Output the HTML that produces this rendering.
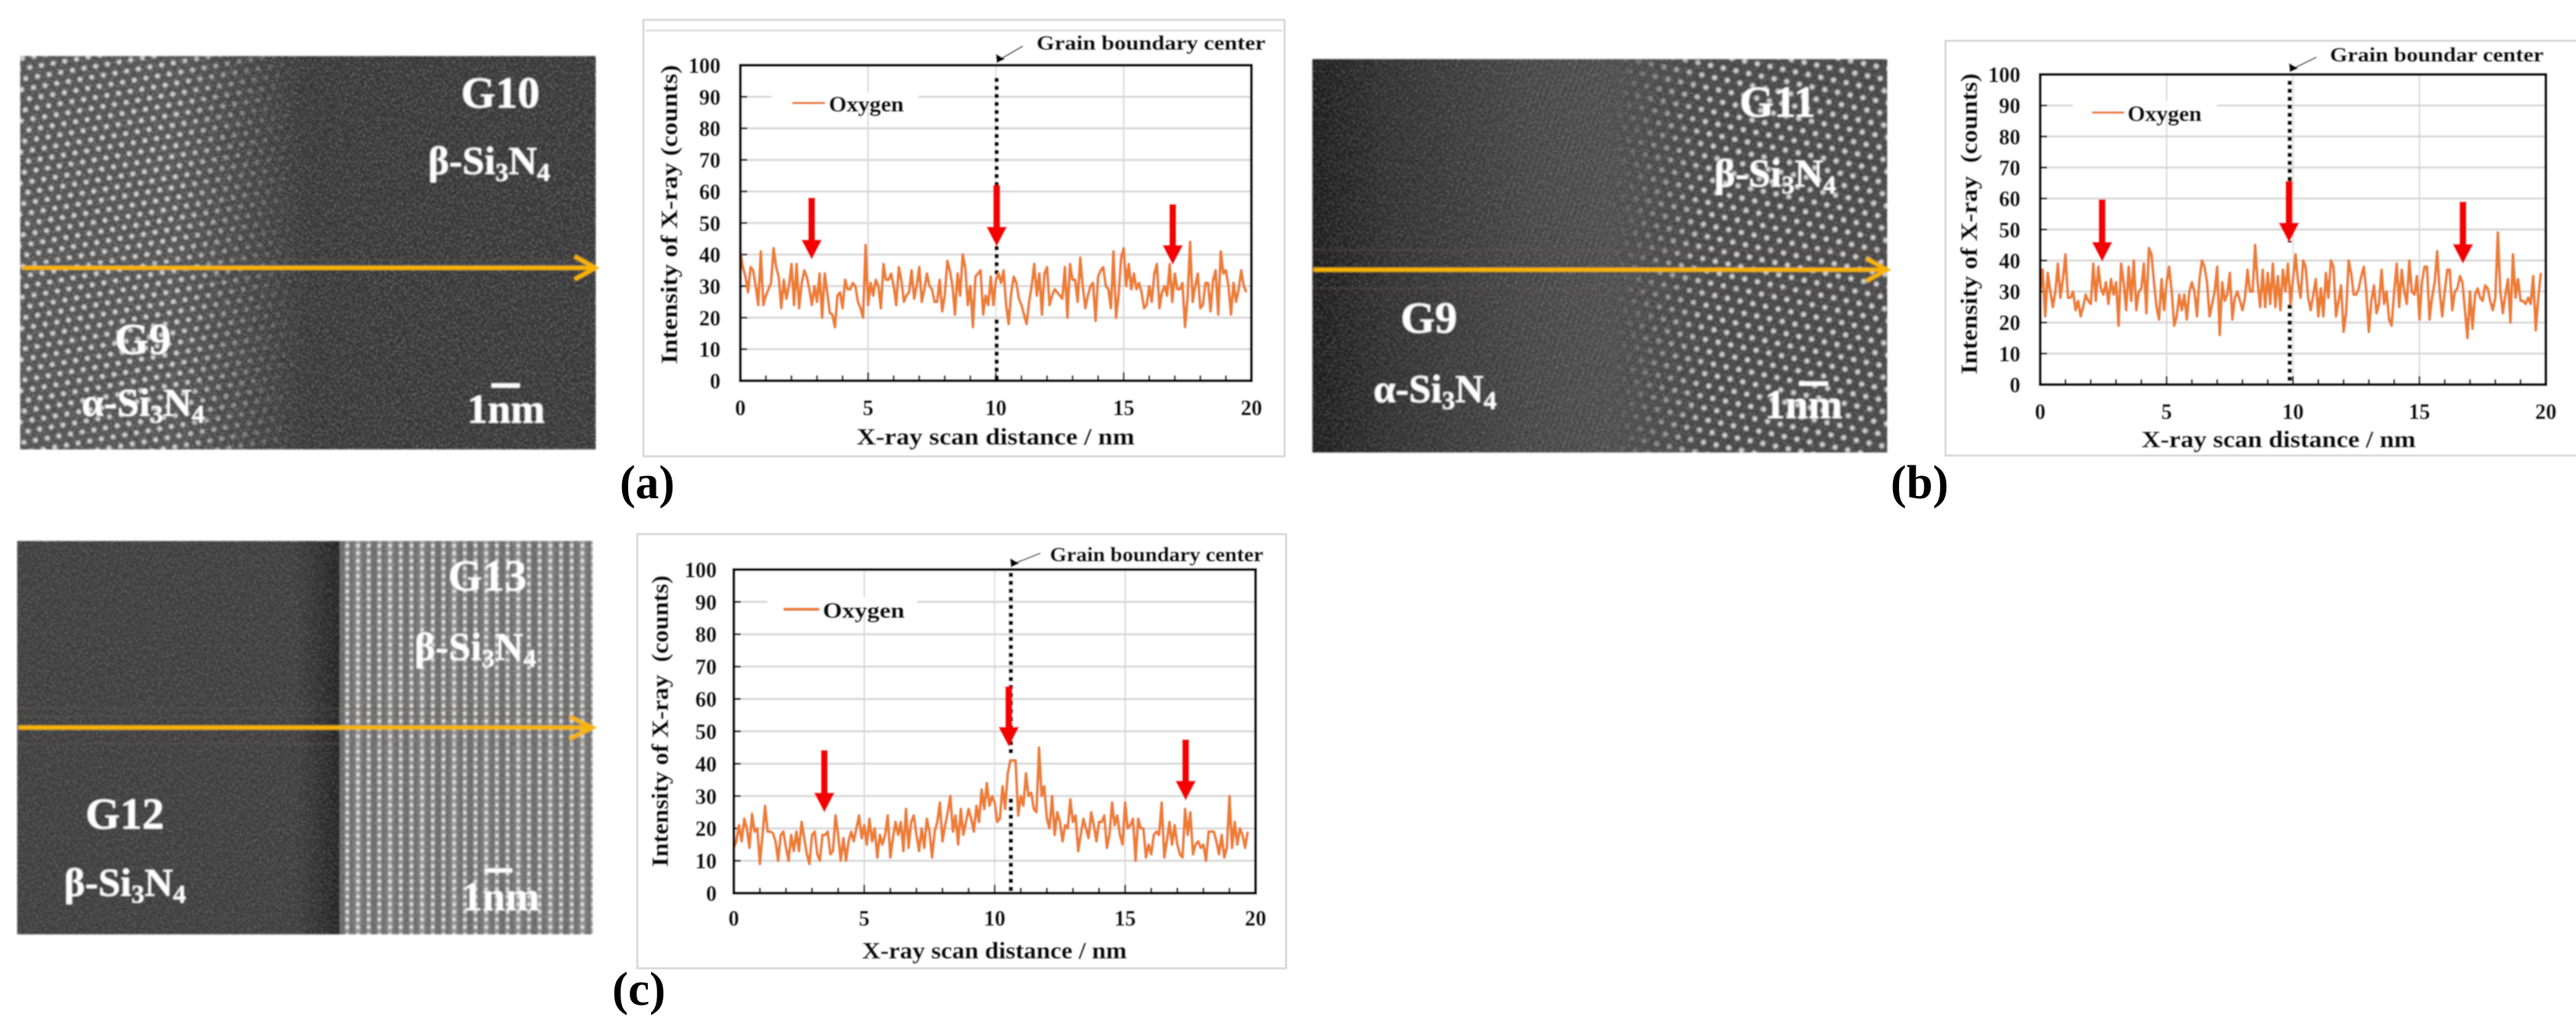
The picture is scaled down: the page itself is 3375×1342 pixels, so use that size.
<!DOCTYPE html>
<html lang="en">
<head>
<meta charset="utf-8">
<title>Oxygen line scans across Si3N4 grain boundaries</title>
<style>
html,body{margin:0;padding:0;background:#fff;}
#figure{display:block;position:absolute;left:0;top:0;}
text{font-family:"Liberation Serif",serif;font-weight:bold;}
.tem text{fill:#fff;}
#charts text{stroke:#111;stroke-width:.45px;}
</style>
</head>
<body>
<svg id="figure" xmlns="http://www.w3.org/2000/svg" width="3375" height="1342" viewBox="0 0 3375 1342">
<defs>
  <radialGradient id="dotA"><stop offset="0" stop-color="#e6e6e6"/><stop offset=".5" stop-color="#b8b8b8"/><stop offset="1" stop-color="#b8b8b8" stop-opacity="0"/></radialGradient>
  <radialGradient id="dotC"><stop offset="0" stop-color="#eeeeee"/><stop offset=".6" stop-color="#cfcfcf"/><stop offset="1" stop-color="#cfcfcf" stop-opacity="0"/></radialGradient>
  <pattern id="hexA" width="15.5" height="26.8" patternUnits="userSpaceOnUse" patternTransform="rotate(-10)">
    <rect width="15.5" height="26.8" fill="#4a4a4a"/>
    <circle cx="0" cy="0" r="4.6" fill="url(#dotA)"/><circle cx="15.5" cy="0" r="4.6" fill="url(#dotA)"/>
    <circle cx="0" cy="26.8" r="4.6" fill="url(#dotA)"/><circle cx="15.5" cy="26.8" r="4.6" fill="url(#dotA)"/>
    <circle cx="7.75" cy="13.4" r="4.6" fill="url(#dotA)"/>
  </pattern>
  <pattern id="hexB" width="17" height="29.4" patternUnits="userSpaceOnUse" patternTransform="rotate(12)">
    <rect width="17" height="29.4" fill="#404040"/>
    <circle cx="0" cy="0" r="4.8" fill="url(#dotA)"/><circle cx="17" cy="0" r="4.8" fill="url(#dotA)"/>
    <circle cx="0" cy="29.4" r="4.8" fill="url(#dotA)"/><circle cx="17" cy="29.4" r="4.8" fill="url(#dotA)"/>
    <circle cx="8.5" cy="14.7" r="4.8" fill="url(#dotA)"/>
  </pattern>
  <pattern id="rowsC" width="14" height="10" patternUnits="userSpaceOnUse">
    <rect width="14" height="10" fill="#666"/>
    <rect x="4" width="6" height="10" fill="#8c8c8c"/>
    <circle cx="7" cy="5" r="3.2" fill="url(#dotC)"/>
  </pattern>
  <pattern id="stripesC" width="42" height="10" patternUnits="userSpaceOnUse">
    <rect x="0" width="14" height="10" fill="#fff"/>
  </pattern>
  <pattern id="fringesB" width="7" height="7" patternUnits="userSpaceOnUse" patternTransform="rotate(18)">
    <rect width="2.6" height="7" fill="#8a8a8a"/>
  </pattern>
  <linearGradient id="fadeA" gradientUnits="userSpaceOnUse" x1="230" y1="0" x2="400" y2="0"><stop offset="0" stop-color="#2e2e2e" stop-opacity="0"/><stop offset="1" stop-color="#2e2e2e"/></linearGradient>
  <linearGradient id="baseB" gradientUnits="userSpaceOnUse" x1="1719" y1="0" x2="2200" y2="0"><stop offset="0" stop-color="#141414"/><stop offset=".2" stop-color="#282828"/><stop offset=".6" stop-color="#3c3c3c"/><stop offset="1" stop-color="#4a4a4a"/></linearGradient>
  <linearGradient id="fadeB" gradientUnits="userSpaceOnUse" x1="2110" y1="0" x2="2240" y2="0"><stop offset="0" stop-color="#464646"/><stop offset="1" stop-color="#464646" stop-opacity="0"/></linearGradient>
  <linearGradient id="fringeFade" gradientUnits="userSpaceOnUse" x1="1800" y1="0" x2="2050" y2="0"><stop offset="0" stop-color="#000"/><stop offset="1" stop-color="#fff"/></linearGradient>
  <mask id="fringeMask" maskUnits="userSpaceOnUse" x="1719" y="70" width="760" height="530"><rect x="1719" y="70" width="760" height="530" fill="url(#fringeFade)"/></mask>
  <linearGradient id="edgeC" gradientUnits="userSpaceOnUse" x1="385" y1="0" x2="440" y2="0"><stop offset="0" stop-color="#222" stop-opacity="0"/><stop offset="1" stop-color="#1e1e1e"/></linearGradient>
  <filter id="noise" x="0" y="0" width="100%" height="100%"><feTurbulence type="fractalNoise" baseFrequency="0.42" numOctaves="2" seed="7"/><feColorMatrix type="matrix" values="0 0 0 0 1 0 0 0 0 1 0 0 0 0 1 3.2 0 0 0 -1.4"/></filter>
  <filter id="soft" x="-2%" y="-2%" width="104%" height="104%"><feGaussianBlur stdDeviation="0.8"/></filter>
  <filter id="softer" x="-1%" y="-1%" width="102%" height="102%"><feGaussianBlur stdDeviation="1"/></filter>
</defs>

<g class="tem" filter="url(#softer)">
  <rect x="26.5" y="73.5" width="754" height="515.5" fill="url(#hexA)"/>
  <rect x="230" y="73.5" width="550.5" height="515.5" fill="url(#fadeA)"/>
  <rect x="26.5" y="73.5" width="754" height="515.5" fill="#fff" filter="url(#noise)" opacity=".32"/>
  <rect x="26.5" y="340" width="754" height="1.5" fill="#6a5a50" opacity=".5"/>
  <rect x="26.5" y="345" width="754" height="1.5" fill="#4a5a80" opacity=".5"/>
  <g fill="none" stroke="#f8b400" stroke-width="5.5"><path d="M29 351H779"/><path d="M753 336L780 351L753 366"/></g>
  <text x="604" y="141" font-size="58">G10</text>
  <text x="561" y="228" font-size="52">β-Si<tspan font-size="34" dy="9">3</tspan><tspan dy="-9">N</tspan><tspan font-size="34" dy="9">4</tspan></text>
  <text x="150" y="464" font-size="58">G9</text>
  <text x="107" y="545" font-size="52">α-Si<tspan font-size="34" dy="9">3</tspan><tspan dy="-9">N</tspan><tspan font-size="34" dy="9">4</tspan></text>
  <rect x="644" y="502.5" width="37" height="5.5" fill="#fff"/>
  <text x="612" y="554" font-size="54">1nm</text>
</g>

<g class="tem" filter="url(#softer)">
  <rect x="1719.5" y="77.5" width="753" height="515.5" fill="url(#baseB)"/>
  <rect x="1790" y="77.5" width="400" height="515.5" fill="url(#fringesB)" opacity=".16" mask="url(#fringeMask)"/>
  <rect x="2110" y="77.5" width="362.5" height="515.5" fill="url(#hexB)"/>
  <rect x="2110" y="77.5" width="130" height="515.5" fill="url(#fadeB)"/>
  <rect x="1719.5" y="77.5" width="753" height="515.5" fill="#fff" filter="url(#noise)" opacity=".26"/>
  <rect x="1719.5" y="327" width="753" height="1.5" fill="#6a5a50" opacity=".45"/>
  <rect x="1719.5" y="377" width="753" height="1.5" fill="#6a5a50" opacity=".45"/>
  <g fill="none" stroke="#f8b400" stroke-width="5.5"><path d="M1721 353.5H2471"/><path d="M2445 338.5L2472 353.5L2445 368.5"/></g>
  <text x="2279" y="153" font-size="58">G11</text>
  <text x="2246" y="244.5" font-size="52">β-Si<tspan font-size="34" dy="9">3</tspan><tspan dy="-9">N</tspan><tspan font-size="34" dy="9">4</tspan></text>
  <text x="1835" y="436" font-size="58">G9</text>
  <text x="1799.5" y="527" font-size="52">α-Si<tspan font-size="34" dy="9">3</tspan><tspan dy="-9">N</tspan><tspan font-size="34" dy="9">4</tspan></text>
  <rect x="2357" y="500" width="38" height="5.5" fill="#fff"/>
  <text x="2312" y="548" font-size="54">1nm</text>
</g>

<g class="tem" filter="url(#softer)">
  <rect x="22.5" y="709" width="754" height="515.5" fill="#393939"/>
  <rect x="385" y="709" width="60" height="515.5" fill="url(#edgeC)"/>
  <rect x="445" y="709" width="331.5" height="515.5" fill="url(#rowsC)"/>
  <rect x="445" y="709" width="331.5" height="515.5" fill="url(#stripesC)" opacity=".08"/>
  <rect x="22.5" y="709" width="754" height="515.5" fill="#fff" filter="url(#noise)" opacity=".24"/>
  <rect x="22.5" y="927.5" width="754" height="1.5" fill="#6a5a50" opacity=".45"/>
  <rect x="22.5" y="938" width="754" height="1.5" fill="#6a5a50" opacity=".45"/>
  <rect x="22.5" y="974" width="754" height="1.5" fill="#6a5a50" opacity=".45"/>
  <g fill="none" stroke="#f8b400" stroke-width="5.5"><path d="M24 953.5H775"/><path d="M746 939L776 953.5L746 968.5"/></g>
  <text x="587" y="774" font-size="58">G13</text>
  <text x="543" y="865" font-size="52">β-Si<tspan font-size="34" dy="9">3</tspan><tspan dy="-9">N</tspan><tspan font-size="34" dy="9">4</tspan></text>
  <text x="112" y="1086" font-size="58">G12</text>
  <text x="84" y="1174" font-size="52">β-Si<tspan font-size="34" dy="9">3</tspan><tspan dy="-9">N</tspan><tspan font-size="34" dy="9">4</tspan></text>
  <rect x="635" y="1138" width="36" height="5.5" fill="#fff"/>
  <text x="605" y="1193" font-size="54">1nm</text>
</g>

<text x="812" y="653" font-size="62" textLength="72" lengthAdjust="spacingAndGlyphs">(a)</text>
<text x="2477" y="653" font-size="62" textLength="76" lengthAdjust="spacingAndGlyphs">(b)</text>
<text x="802" y="1317" font-size="62" textLength="70" lengthAdjust="spacingAndGlyphs">(c)</text>

<g id="charts" filter="url(#soft)"></g>
</svg>

<script>
const xTickLabels = [0, 5, 10, 15, 20];
const yTickLabels = [0, 10, 20, 30, 40, 50, 60, 70, 80, 90, 100];
const scanStepNm = 0.1;

const oxygenA = [41,36,33,28,36,35,30,24,41,24,27,29,31,42,36,33,23,32,26,30,37,24,37,23,31,35,33,29,24,30,25,34,20,34,28,21.5,21,17,27,28,23,32,29,29,31,30,25,23,20,43,24,31,27,32,30,23,37,32,32,34,30,24,36,32,25,27,28,35,26,30,36,25,29,34,30,29,25,25,32,22,27,38,35,30,21,34,27,40,36,24,30,17,33,34,35,21,27,24,33,24,32,34,31,35,24,18,28,33,31,26,24,21,18,25,30,37,27,34,21,34,36,24,27,29,28,27,26,36,20,37,32,32,25,39,30,23,27,30,31,19,33,35,36,30,29,23,41,20,27,39,42,30,37,29,34,29,31,28,23,24,30,25,34,37,23,28,30,27,37,25,34,29,29,31,17,26,44,25,30,34,23,24,31,31,22,32,35,21,41,34,35,30,21,31,25,29,35,30,28];
const oxygenB = [30,37,22,36,30,25,30,39,28,34,42,28,28,30,24,27,22,25,29,27,26,39,27,38,31,29,33,26,34,29,33,19,39,33,24,38,27,40,24,30,31,39,23,44,42,33,25,21,34,24,33,38,30,19,22,29,24,29,21,30,33,30,22,34,40,38,33,22,26,30,38,16,33,27,29,36,21,28,30,27,24,28,37,30,30,45,33,25,37,25,36,26,39,25,35,24,37,30,39,26,34,42,33,28,40,38,28,24,29,34,22,31,22,36,28,40,38,22,27,32,17,23,40,36,29,29,31,35,38,30,17,27,32,23,26,37,26,30,21,19,30,39,25,37,30,26,40,30,29,35,21,33,38,38,21,28,33,43,30,22,30,37,37,24,30,31,35,33,24,15,30,18,29,31,28,27,32,31,27,24,28,49,30,23,29,34,20,42,28,34,27,27,26,28,26,35,17.5,28,36];
const oxygenC = [14,16,21,16,23,20,14,24.5,19,20,9,18,27,19,19,18.5,16,10,18,19,14,10,18,13,19,13,22,17,12,9,18,19,12,10,18,18,19,12,13,24,18,10,17,10,16,19,16,20,24,17,21,15,23,16,20,11,18,15,18,24,11,17,22,18,22,13,26,14,22,24,18,13,20,14,23,19,11,19,22,28,16,21,25,30,19,24,15,26,18,22,26,23,19,27,22,32,26,34,27,30,28,22,23,33,26,37,41,41,41,24,30,27,37,30,31,26,25,45,30,33,23,20,30,18,25,22,16,21,20,29,22,24,13,18,23,20,17,25,21,16,22,22,24,14,18,28,21,24,18,15,28,20,21,23,10,23,20,20,11,15,12,18,19,18,28,11,16,22,15,21,15,12,11,26,18,25,12,15,16,14,15,10,19,19,19,16,12,18,11,14,30,14,22,15,20,18,14,19];

const svgNS = 'http://www.w3.org/2000/svg';
const root = document.getElementById('charts');

function mk(parent, tag, attrs, text) {
  const el = document.createElementNS(svgNS, tag);
  for (const k in attrs) el.setAttribute(k, attrs[k]);
  if (text !== undefined) el.textContent = text;
  parent.appendChild(el);
  return el;
}

function drawChart(cfg, oxygen) {
  const sx = v => cfg.left + (v - 0) / 20 * (cfg.right - cfg.left);
  const sy = v => cfg.bottom - (v - 0) / 100 * (cfg.bottom - cfg.top);

  const g = mk(root, 'g', {});
  
  

  const frame = mk(g, 'path', {d: cfg.frame, fill: '#fff', stroke: '#c9c9c9', 'stroke-width': 2});
  
  
  if (cfg.frameInner) {
    const inner = mk(g, 'path', {d: cfg.frameInner, fill: 'none', stroke: '#d4d4d4', 'stroke-width': 2});
    
    
  }

  yTickLabels.forEach(v => {
    if (v > 0 && v < 100) {
      const line = mk(g, 'line', {x1: cfg.left, x2: cfg.right, y1: sy(v), y2: sy(v), stroke: '#d9d9d9', 'stroke-width': 2.8});
      
      
    }
    const t = mk(g, 'line', {x1: cfg.left, x2: cfg.left + 9, y1: sy(v), y2: sy(v), stroke: '#222', 'stroke-width': 2.5});
    
    
    const lab = mk(g, 'text', {x: cfg.yLabelRight, y: sy(v) + 10, 'font-size': 28, 'text-anchor': 'end', fill: '#111'}, String(v));
    
    
  });

  xTickLabels.forEach(v => {
    if (v > 0 && v < 20) {
      const line = mk(g, 'line', {x1: sx(v), x2: sx(v), y1: cfg.top, y2: cfg.bottom, stroke: '#d9d9d9', 'stroke-width': v === 10 ? 1.6 : 2});
      
      
    }
    const lab = mk(g, 'text', {x: sx(v), y: cfg.xLabelBase, 'font-size': 28, 'text-anchor': 'middle', fill: '#111'}, String(v));
    
    
  });

  for (let v = 1; v < 20; v++) {
    const t = mk(g, 'line', {x1: sx(v), x2: sx(v), y1: cfg.bottom, y2: cfg.bottom - (v % 5 === 0 ? 11 : 7), stroke: '#222', 'stroke-width': 2.4});
    
    
  }

  const legendGap = mk(g, 'rect', {x: cfg.legendGap[0], y: sy(90) - 6, width: cfg.legendGap[1] - cfg.legendGap[0], height: 12, fill: '#fff'});
  
  

  const dotsTop = mk(g, 'line', {x1: sx(cfg.boundary), x2: sx(cfg.boundary), y1: sy(cfg.dotStart), y2: sy(cfg.gap[1]), stroke: '#000', 'stroke-width': 5.5, 'stroke-dasharray': '5.5 5'});
  
  
  const dotsLow = mk(g, 'line', {x1: sx(cfg.boundary), x2: sx(cfg.boundary), y1: sy(cfg.gap[0]), y2: cfg.bottom, stroke: '#000', 'stroke-width': 5.5, 'stroke-dasharray': '5.5 5'});
  
  

  const pts = oxygen.map((v, i) => sx(i * scanStepNm).toFixed(1) + ',' + sy(v).toFixed(1)).join(' ');
  const series = mk(g, 'polyline', {points: pts, fill: 'none', stroke: '#ed7d31', 'stroke-width': 3.6, 'stroke-linejoin': 'round'});
  
  

  const border = mk(g, 'rect', {x: cfg.left, y: cfg.top, width: cfg.right - cfg.left, height: cfg.bottom - cfg.top, fill: 'none', stroke: '#000', 'stroke-width': 3.6});
  
  

  cfg.arrows.forEach(a => {
    const cx = sx(a[0]), tip = sy(a[1]), top = sy(a[2]), headY = tip - 26;
    const arrow = mk(g, 'path', {d: 'M' + (cx - 4.5) + ' ' + top + 'H' + (cx + 4.5) + 'V' + headY + 'H' + (cx + 13.5) + 'L' + cx + ' ' + tip + 'L' + (cx - 13.5) + ' ' + headY + 'H' + (cx - 4.5) + 'Z', fill: '#f40000'});
    
    
  });

  const cx = sx(cfg.boundary);
  const pointer = mk(g, 'line', {x1: cfg.pointer[0], y1: cfg.pointer[1], x2: cx + 5, y2: cfg.top - 8, stroke: '#333', 'stroke-width': 1.6});
  
  
  const head = mk(g, 'path', {d: 'M' + cx + ' ' + (cfg.top - 3) + 'l-1 -12 l12 7 Z', fill: '#000'});
  
  
  const note = mk(g, 'text', {x: cfg.note[0], y: cfg.note[1], 'font-size': 26, textLength: cfg.note[2], lengthAdjust: 'spacingAndGlyphs', fill: '#111'}, cfg.noteText);
  
  

  const legendLine = mk(g, 'line', {x1: cfg.legend[0], x2: cfg.legend[1], y1: cfg.legend[2], y2: cfg.legend[2], stroke: '#ed7d31', 'stroke-width': cfg.legendStroke});
  
  
  const legendText = mk(g, 'text', {x: cfg.legend[3], y: cfg.legend[2] + 11, 'font-size': 29, textLength: cfg.legend[4], lengthAdjust: 'spacingAndGlyphs', fill: '#111'}, 'Oxygen');
  
  

  const xTitle = mk(g, 'text', {x: cfg.xTitle[0], y: cfg.xTitle[1], 'font-size': 31, 'text-anchor': 'middle', textLength: cfg.xTitle[2], lengthAdjust: 'spacingAndGlyphs', fill: '#111'}, 'X-ray scan distance / nm');
  
  

  const yMid = (cfg.yTitle[1] + cfg.yTitle[2]) / 2;
  const yTitle = mk(g, 'text', {x: cfg.yTitle[0], y: yMid, 'font-size': 31, 'text-anchor': 'middle', textLength: cfg.yTitle[2] - cfg.yTitle[1], lengthAdjust: 'spacingAndGlyphs', fill: '#111', transform: 'rotate(-90 ' + cfg.yTitle[0] + ' ' + yMid + ')', 'xml:space': 'preserve', style: 'white-space:pre'}, cfg.yTitleText);
  
  
}

drawChart({
  id: 'a', left: 970, right: 1639.6, top: 85.5, bottom: 499,
  frame: 'M843 26H1683V598H843Z', frameInner: 'M846 40H1680',
  yLabelRight: 944, xLabelBase: 544, legendGap: [1011, 1203],
  boundary: 10.03, dotStart: 96, gap: [19.4, 32.9],
  arrows: [[2.79, 38.4, 58], [10.03, 42.5, 62], [16.92, 36.7, 56]],
  pointer: [1340, 60.5], note: [1358, 65, 300], noteText: 'Grain boundary center',
  legend: [1038, 1081, 135, 1086, 98], legendStroke: 3,
  xTitle: [1304.5, 582.5, 364], yTitle: [887, 85, 477], yTitleText: 'Intensity of X-ray (counts)'
}, oxygenA);

drawChart({
  id: 'b', left: 2673, right: 3335.5, top: 97.6, bottom: 504,
  frame: 'M3376 53.5H2549V597H3376',
  yLabelRight: 2647, xLabelBase: 549, legendGap: [2716, 2904],
  boundary: 9.87, dotStart: 98, gap: [25.8, 45.8],
  arrows: [[2.45, 39.6, 59.7], [9.84, 45.8, 65.6], [16.72, 38.9, 59]],
  pointer: [3035, 75], note: [3052.5, 80.5, 280], noteText: 'Grain boundar center',
  legend: [2741, 2783, 147.5, 2787.5, 97], legendStroke: 3,
  xTitle: [2985.5, 586, 359], yTitle: [2590, 96, 490.5], yTitleText: 'Intensity of X-ray  (counts)'
}, oxygenB);

drawChart({
  id: 'c', left: 961.4, right: 1645, top: 746.4, bottom: 1170.5,
  frame: 'M835 700H1685V1269H835Z',
  yLabelRight: 939, xLabelBase: 1213, legendGap: [1005, 1201.5],
  boundary: 10.62, dotStart: 99, gap: [29.2, 42.8],
  arrows: [[3.47, 24.9, 44.2], [10.54, 45.2, 63.9], [17.32, 28.6, 47.5]],
  pointer: [1363, 725], note: [1375.5, 735.5, 279.5], noteText: 'Grain boundary center',
  legend: [1026.5, 1073.5, 798.5, 1078, 107], legendStroke: 4,
  xTitle: [1303, 1256, 346.5], yTitle: [875, 754, 1136], yTitleText: 'Intensity of X-ray  (counts)'
}, oxygenC);
</script>
</body>
</html>
